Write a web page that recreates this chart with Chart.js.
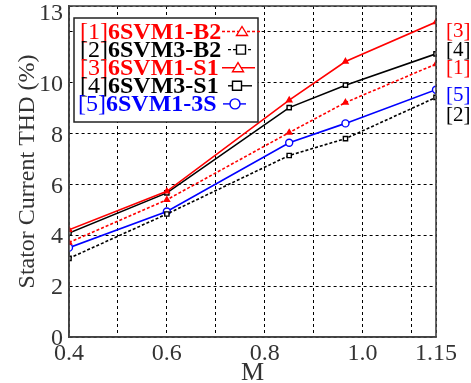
<!DOCTYPE html>
<html>
<head>
<meta charset="utf-8">
<script src="https://cdn.jsdelivr.net/npm/chart.js@4/dist/chart.umd.min.js"></script>
<style>
html,body{margin:0;padding:0;background:#fff;}
#wrap{width:471px;height:383px;position:relative;}
</style>
</head>
<body>
<div id="wrap"><canvas id="c" width="471" height="383"></canvas></div>
<script>
// ---- data ----
const mValues = [0.4, 0.6, 0.85, 0.965, 1.15];
const seriesTags = ['[1]', '[2]', '[3]', '[4]', '[5]'];
const seriesNames = ['6SVM1-B2', '6SVM3-B2', '6SVM1-S1', '6SVM3-S1', '6SVM1-3S'];
const thd1 = [3.71, 5.39, 8.03, 9.21, 10.72];
const thd2 = [3.09, 4.83, 7.13, 7.79, 9.41];
const thd3 = [4.21, 5.72, 9.30, 10.82, 12.37];
const thd4 = [4.08, 5.66, 9.01, 9.89, 11.12];
const thd5 = [3.51, 4.93, 7.63, 8.39, 9.71];
const endLabelValues = [10.53, 8.69, 11.99, 11.24, 9.5];
const xTickValues = [0.4, 0.5, 0.6, 0.7, 0.8, 0.9, 1.0, 1.1, 1.15];
const xTickLabels = ['0.4', '', '0.6', '', '0.8', '', '1.0', '', '1.15'];
const yTickValues = [0, 2, 4, 6, 8, 10, 12, 13];
const yTickLabels = ['0', '2', '4', '6', '8', '10', '', '13'];

const RED = '#ff0000', BLACK = '#000000', BLUE = '#0000ff';
const colors = [RED, BLACK, RED, BLACK, BLUE];
const styles = ['triangle', 'rect', 'triangle', 'rect', 'circle'];
const dashed = [true, true, false, false, false];
const allSeries = [thd1, thd2, thd3, thd4, thd5];
const SERIF = "'Liberation Serif', 'DejaVu Serif', serif";

const datasets = allSeries.map((vals, i) => ({
  label: seriesTags[i] + seriesNames[i],
  data: vals.map((v, j) => ({x: mValues[j], y: v})),
  borderColor: colors[i],
  backgroundColor: styles[i] === 'triangle' ? colors[i] : '#ffffff',
  borderWidth: 1.6,
  borderDash: dashed[i] ? [3, 2] : [],
  pointStyle: styles[i],
  pointRadius: styles[i] === 'circle' ? 3.5 : 3,
  pointBorderWidth: 1.4,
  pointBorderColor: colors[i],
  tension: 0,
  fill: false
}));

// legend sample geometry per row: [lineStart, lineEnd, markerX]
const legendSamples = [[222, 262, 242], [228, 252, 241], [222, 255, 238], [228, 252, 237], [223, 246, 235]];

const decor = {
  id: 'decor',
  afterDatasetsDraw(chart) {
    const ctx = chart.ctx;
    const a = chart.chartArea;
    const ys = chart.scales.y;
    ctx.save();
    // frame
    ctx.strokeStyle = '#444';
    ctx.lineWidth = 1.6;
    ctx.setLineDash([]);
    ctx.strokeRect(a.left, a.top, a.right - a.left, a.bottom - a.top);

    // legend box
    const bx = 74, by = 18, bw = 184, bh = 104;
    ctx.fillStyle = '#fff';
    ctx.fillRect(bx, by, bw, bh);
    ctx.strokeStyle = '#222';
    ctx.lineWidth = 1.5;
    ctx.strokeRect(bx, by, bw, bh);
    ctx.textBaseline = 'alphabetic';
    ctx.textAlign = 'left';
    for (let i = 0; i < seriesTags.length; i++) {
      const yb = 38.5 + i * 18.1;
      const x0 = i === 4 ? 78 : 80;
      ctx.fillStyle = colors[i];
      ctx.font = '24px ' + SERIF;
      ctx.fillText(seriesTags[i], x0, yb);
      const w1 = ctx.measureText(seriesTags[i]).width;
      ctx.font = 'bold 24px ' + SERIF;
      ctx.fillText(seriesNames[i], x0 + w1, yb);
      // sample line
      const [l0, l1, mx] = legendSamples[i];
      const ly = yb - 7;
      ctx.strokeStyle = colors[i];
      ctx.lineWidth = 1.4;
      ctx.setLineDash(dashed[i] ? [3, 2] : []);
      ctx.beginPath();
      ctx.moveTo(l0, ly);
      ctx.lineTo(l1, ly);
      ctx.stroke();
      ctx.setLineDash([]);
      ctx.fillStyle = '#fff';
      ctx.beginPath();
      const r = 5;
      if (styles[i] === 'triangle') {
        ctx.moveTo(mx, ly - r);
        ctx.lineTo(mx + r * 1.1, ly + r * 0.8);
        ctx.lineTo(mx - r * 1.1, ly + r * 0.8);
        ctx.closePath();
      } else if (styles[i] === 'rect') {
        ctx.rect(mx - 4.5, ly - 4.5, 9, 9);
      } else {
        ctx.arc(mx, ly, 5, 0, Math.PI * 2);
      }
      ctx.fill();
      ctx.stroke();
    }

    // end labels
    ctx.font = '21px ' + SERIF;
    ctx.textBaseline = 'middle';
    for (let i = 0; i < seriesTags.length; i++) {
      ctx.fillStyle = colors[i];
      ctx.fillText(seriesTags[i], a.right + 10, ys.getPixelForValue(endLabelValues[i]));
    }
    ctx.restore();
  }
};

new Chart(document.getElementById('c'), {
  type: 'line',
  data: {datasets},
  options: {
    responsive: false,
    animation: false,
    devicePixelRatio: 1,
    layout: {padding: {top: 6, right: 35, left: 0, bottom: 0}},
    plugins: {legend: {display: false}, tooltip: {enabled: false}},
    scales: {
      x: {
        type: 'linear',
        min: 0.4,
        max: 1.15,
        afterBuildTicks(scale) { scale.ticks = xTickValues.map(v => ({value: v})); },
        afterFit(scale) { scale.height = 46; scale.paddingLeft = 0; scale.paddingRight = 0; },
        ticks: {
          autoSkip: false,
          maxRotation: 0,
          padding: 2,
          color: '#333',
          font: {family: SERIF, size: 24},
          callback: (v, i) => xTickLabels[i]
        },
        grid: {
          color: '#000',
          lineWidth: 1,
          drawTicks: false
        },
        border: {display: true, color: '#444', width: 1.6, dash: [3, 3]},
        title: {
          display: true,
          text: 'M',
          color: '#333',
          font: {family: SERIF, size: 26, lineHeight: 0.75},
          padding: {top: 0, bottom: 0}
        }
      },
      y: {
        type: 'linear',
        min: 0,
        max: 13,
        afterBuildTicks(scale) { scale.ticks = yTickValues.map(v => ({value: v})); },
        afterFit(scale) { scale.width = 69; scale.paddingTop = 0; scale.paddingBottom = 0; },
        ticks: {
          autoSkip: false,
          padding: 6,
          labelOffset: 2,
          color: '#333',
          font: (c) => (c.tick && c.tick.value === 13)
            ? {family: SERIF, size: 24, lineHeight: 0.5}
            : {family: SERIF, size: 24},
          callback: (v, i) => yTickValues[i] === 13 ? ['', yTickLabels[i]] : yTickLabels[i]
        },
        grid: {
          color: '#000',
          lineWidth: 1,
          drawTicks: false
        },
        border: {display: true, color: '#444', width: 1.6, dash: [3, 3]},
        title: {
          display: true,
          text: 'Stator Current THD (%)',
          color: '#333',
          font: {family: SERIF, size: 24, lineHeight: 1.2},
          padding: {top: 13, bottom: 0}
        }
      }
    }
  },
  plugins: [decor]
});
</script>
</body>
</html>
